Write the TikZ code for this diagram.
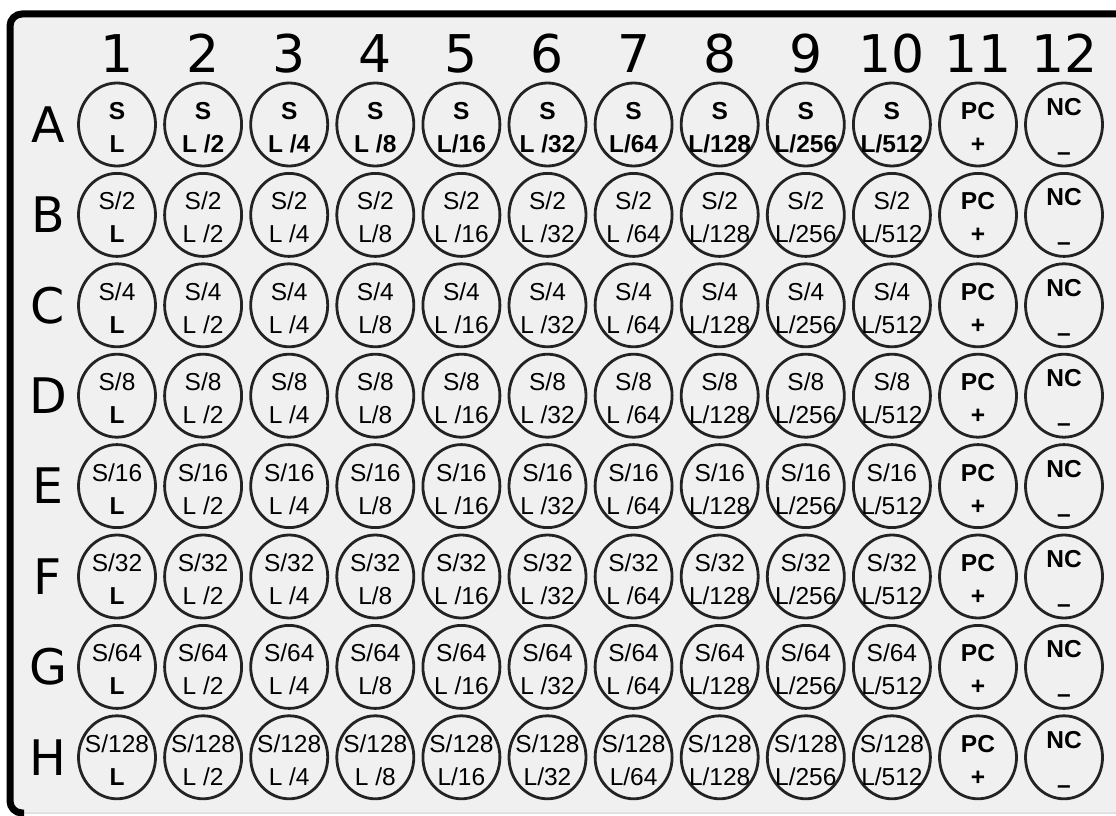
\documentclass[tikz,border=0pt]{standalone}
\usepackage{fontspec}
\usepackage{tikz}
\usetikzlibrary{shapes.geometric}
\newfontfamily\wellsans{Liberation Sans}
\newfontfamily\headsans{DejaVu Sans}
\definecolor{plateGray}{RGB}{240, 240, 240}
\definecolor{plateEdge}{RGB}{205, 205, 205}
\definecolor{wellLine}{RGB}{35, 35, 35}

\newcommand{\platerow}[5]{%
    \node[rownum] (row#1) at (48,#2) {#1};
    \node[well] (#1-1) at (117,#2) {};
    \node[#4] at (117,#2-5) {#3};
    \node[lblbold] at (117,#2+28) {L};
    \foreach \lab [count=\col from 2] in {#5} {
        \node[well] (#1-\col) at ({117+86.1*(\col-1)},#2) {};
        \node[#4] at ({117+86.1*(\col-1)},#2-5) {#3};
        \node[#4] at ({117+86.1*(\col-1)},#2+28) {\lab};
    }
    \node[well] (#1-11) at (978,#2) {};
    \node[lblbold] at (978,#2-5) {PC};
    \node[lblbold] at (978,#2+28) {+};
    \node[well] (#1-12) at (1064,#2) {};
    \node[lblbold] at (1064,#2-9) {NC};
    \node[lblbold] at (1064,#2+36) {–};
}

\begin{document}
\begin{tikzpicture}[x=1pt, y=-1pt,
    well/.style={ellipse, draw=wellLine, line width=2.8pt, minimum width=77pt, minimum height=83pt, inner sep=0pt},
    lbl/.style={anchor=base, inner sep=0pt, font=\wellsans\fontsize{24.5}{24}\selectfont},
    lblbold/.style={anchor=base, inner sep=0pt, font=\wellsans\bfseries\fontsize{24.5}{24}\selectfont},
    colnum/.style={anchor=base, inner sep=0pt, font=\headsans\fontsize{52}{52}\selectfont},
    rownum/.style={inner sep=0pt, font=\headsans\fontsize{49}{49}\selectfont}]
    \useasboundingbox (0,0) rectangle (1116,816);
    \clip (0,0) rectangle (1116,816);
    \filldraw[fill=plateGray, draw=plateEdge, line width=1pt, rounded corners=12pt] (10,14) rectangle (1200,813);
    \draw[black, line width=7pt, rounded corners=12pt] (24,813) -- (10,813) -- (10,14) -- (1200,14);

    \foreach \col in {1,...,12}
        \node[colnum] (col\col) at ({117+86.1*(\col-1)},72) {\col};

    \platerow{A}{124.5}{S}{lblbold}{L /2, L /4, L /8, L/16, L /32, L/64, L/128, L/256, L/512}
    \platerow{B}{214.9}{S/2}{lbl}{L /2, L /4, L/8, L /16, L /32, L /64, L/128, L/256, L/512}
    \platerow{C}{305.3}{S/4}{lbl}{L /2, L /4, L/8, L /16, L /32, L /64, L/128, L/256, L/512}
    \platerow{D}{395.7}{S/8}{lbl}{L /2, L /4, L/8, L /16, L /32, L /64, L/128, L/256, L/512}
    \platerow{E}{486.1}{S/16}{lbl}{L /2, L /4, L/8, L /16, L /32, L /64, L/128, L/256, L/512}
    \platerow{F}{576.5}{S/32}{lbl}{L /2, L /4, L/8, L /16, L /32, L /64, L/128, L/256, L/512}
    \platerow{G}{666.9}{S/64}{lbl}{L /2, L /4, L/8, L /16, L /32, L /64, L/128, L/256, L/512}
    \platerow{H}{757.3}{S/128}{lbl}{L /2, L /4, L /8, L/16, L/32, L/64, L/128, L/256, L/512}
\end{tikzpicture}
\end{document}
